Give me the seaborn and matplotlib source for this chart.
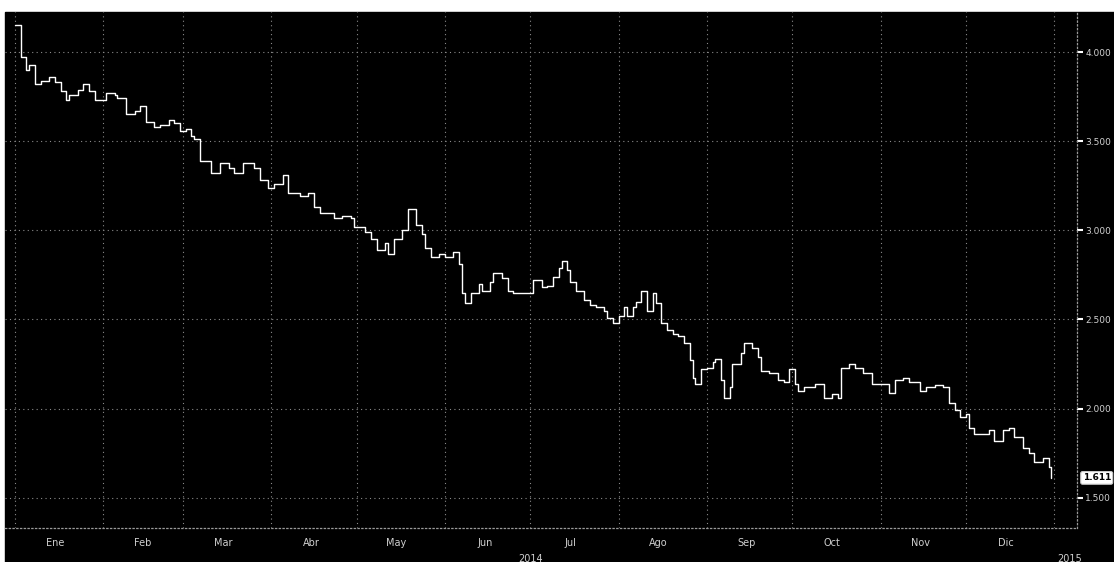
import numpy as np
import pandas as pd
import matplotlib
matplotlib.use('Agg')
import matplotlib.pyplot as plt
import matplotlib.dates as mdates
from matplotlib.ticker import FuncFormatter
from matplotlib.patches import Rectangle
import seaborn as sns

# ================= DATA =================
fechas = [
    '01-01', '01-03', '01-05', '01-06', '01-08', '01-10', '01-13', '01-15', '01-17', '01-19',
    '01-20', '01-23', '01-25', '01-27', '01-29', '01-31', '02-02', '02-05', '02-06', '02-09',
    '02-10', '02-12', '02-14', '02-16', '02-19', '02-21', '02-24', '02-26', '02-28', '03-02',
    '03-04', '03-05', '03-07', '03-11', '03-14', '03-17', '03-19', '03-22', '03-26', '03-28',
    '03-31', '04-02', '04-05', '04-07', '04-11', '04-14', '04-16', '04-18', '04-23', '04-26',
    '04-29', '04-30', '05-04', '05-06', '05-08', '05-11', '05-12', '05-14', '05-17', '05-19',
    '05-22', '05-24', '05-25', '05-27', '05-30', '06-01', '06-04', '06-06', '06-07', '06-08',
    '06-10', '06-13', '06-14', '06-17', '06-18', '06-21', '06-23', '06-25', '06-29', '07-01',
    '07-02', '07-05', '07-07', '07-09', '07-11', '07-12', '07-14', '07-15', '07-17', '07-20',
    '07-22', '07-24', '07-27', '07-28', '07-30', '08-01', '08-03', '08-04', '08-06', '08-07',
    '08-09', '08-11', '08-13', '08-14', '08-16', '08-18', '08-20', '08-22', '08-24', '08-26',
    '08-27', '08-28', '08-30', '09-01', '09-03', '09-04', '09-06', '09-07', '09-09', '09-10',
    '09-13', '09-14', '09-17', '09-19', '09-20', '09-23', '09-26', '09-28', '09-30', '10-02',
    '10-03', '10-05', '10-09', '10-12', '10-15', '10-17', '10-18', '10-21', '10-23', '10-26',
    '10-29', '11-01', '11-04', '11-06', '11-09', '11-11', '11-15', '11-17', '11-20', '11-23',
    '11-25', '11-27', '11-29', '12-01', '12-02', '12-04', '12-07', '12-09', '12-11', '12-14',
    '12-16', '12-18', '12-21', '12-23', '12-25', '12-28', '12-30', '12-31',
]
rendimiento = [
    4.15, 3.97, 3.90, 3.93, 3.82, 3.84, 3.86, 3.83, 3.78, 3.73,
    3.76, 3.79, 3.82, 3.78, 3.73, 3.73, 3.77, 3.76, 3.74, 3.65,
    3.65, 3.67, 3.70, 3.61, 3.58, 3.59, 3.62, 3.60, 3.56, 3.57,
    3.53, 3.51, 3.39, 3.32, 3.38, 3.35, 3.32, 3.38, 3.35, 3.28,
    3.24, 3.26, 3.31, 3.21, 3.19, 3.21, 3.13, 3.10, 3.07, 3.08,
    3.07, 3.02, 2.99, 2.95, 2.89, 2.93, 2.87, 2.95, 3.00, 3.12,
    3.03, 2.98, 2.90, 2.85, 2.87, 2.85, 2.88, 2.81, 2.65, 2.59,
    2.65, 2.70, 2.66, 2.71, 2.76, 2.73, 2.66, 2.65, 2.65, 2.65,
    2.72, 2.68, 2.69, 2.74, 2.79, 2.83, 2.78, 2.71, 2.66, 2.61,
    2.58, 2.57, 2.55, 2.51, 2.48, 2.52, 2.57, 2.52, 2.57, 2.60,
    2.66, 2.55, 2.65, 2.59, 2.48, 2.44, 2.42, 2.41, 2.37, 2.27,
    2.17, 2.14, 2.22, 2.23, 2.26, 2.28, 2.16, 2.06, 2.12, 2.25,
    2.31, 2.37, 2.34, 2.29, 2.21, 2.20, 2.16, 2.15, 2.22, 2.14,
    2.10, 2.12, 2.14, 2.06, 2.08, 2.06, 2.23, 2.25, 2.23, 2.20,
    2.14, 2.14, 2.09, 2.16, 2.17, 2.15, 2.10, 2.12, 2.13, 2.12,
    2.03, 1.99, 1.95, 1.97, 1.89, 1.86, 1.86, 1.88, 1.82, 1.88,
    1.89, 1.84, 1.78, 1.75, 1.70, 1.72, 1.67, 1.611,
]
meses = ['Ene', 'Feb', 'Mar', 'Abr', 'May', 'Jun', 'Jul', 'Ago', 'Sep', 'Oct', 'Nov', 'Dic']
y_ticks = [1.5, 2.0, 2.5, 3.0, 3.5, 4.0]
anios = ['2014', '2015']

df = pd.DataFrame({'fecha': pd.to_datetime(['2014-' + f for f in fechas]),
                   'rendimiento': rendimiento})

# ================= PLOT =================
sns.set_style('dark')
plt.rcParams['font.family'] = ['DejaVu Sans']

W, H = 1114, 562
fig = plt.figure(figsize=(W / 100, H / 100), dpi=100, facecolor='white')
fig.add_artist(Rectangle((5 / W, 0), 1 - 5 / W, (H - 12) / H,
                         transform=fig.transFigure, color='black', zorder=0))
ax = fig.add_axes([5 / W, (H - 528) / H, (1077 - 5) / W, (528 - 12) / H])
ax.set_facecolor('black')

sns.lineplot(data=df, x='fecha', y='rendimiento', ax=ax, color='white',
             linewidth=1.0, drawstyle='steps-post')

ax.set_xlim(pd.Timestamp('2013-12-28 12:00'), pd.Timestamp('2015-01-09'))
ax.set_ylim(1.33, 4.225)

# grid
ax.xaxis.set_major_locator(mdates.MonthLocator())
ax.xaxis.set_major_formatter(FuncFormatter(lambda v, p: ''))
ax.xaxis.set_minor_locator(mdates.MonthLocator(bymonthday=15))
ax.xaxis.set_minor_formatter(FuncFormatter(
    lambda v, p: meses[mdates.num2date(v).month - 1] if mdates.num2date(v).year == 2014 else ''))
ax.grid(True, which='major', color='#8a8a8a', linestyle=(0, (1, 3)), linewidth=0.8)
ax.tick_params(axis='x', which='both', length=0, colors='#d0d0d0', labelsize=7)
ax.tick_params(axis='x', which='minor', pad=7)

ax.yaxis.tick_right()
ax.set_yticks(y_ticks)
ax.yaxis.set_major_formatter(FuncFormatter(lambda v, p: f'{v:.3f}'))
ax.tick_params(axis='y', length=4, width=1.5, color='white', colors='#d0d0d0',
               labelsize=6.5, pad=2, direction='out')

for s in ['top', 'left']:
    ax.spines[s].set_visible(False)
for s in ['right', 'bottom']:
    ax.spines[s].set_color('#9a9a9a')
    ax.spines[s].set_linestyle((0, (1, 2)))
    ax.spines[s].set_linewidth(0.9)

ax.set_xlabel('')
ax.set_ylabel('')

# year labels
ax.text(pd.Timestamp('2014-07-01'), -0.05, anios[0], transform=ax.get_xaxis_transform(),
        ha='center', va='top', color='#d0d0d0', fontsize=7)
ax.text(pd.Timestamp('2015-01-02'), -0.05, anios[1], transform=ax.get_xaxis_transform(),
        ha='left', va='top', color='#d0d0d0', fontsize=7)

# last value tag
ultimo = rendimiento[-1]
ax.annotate(f'{ultimo:.3f}', xy=(1.0, ultimo), xycoords=('axes fraction', 'data'),
            xytext=(4, 0), textcoords='offset points', ha='left', va='center',
            fontsize=6.5, fontweight='bold', color='black',
            bbox=dict(boxstyle='round,pad=0.2', fc='white', ec='#cccccc', lw=0.8))

fig.savefig('out.png', dpi=100, facecolor=fig.get_facecolor())
